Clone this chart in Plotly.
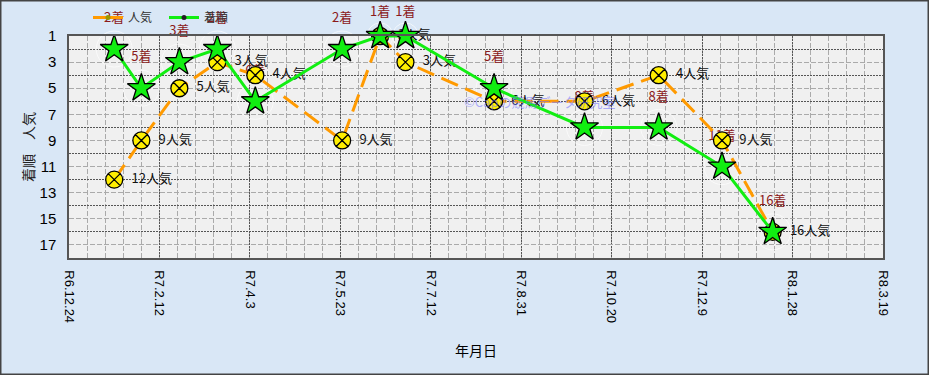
import plotly.graph_objects as go

# ---- data ----
race_dates = ["2025-01-18", "2025-02-02", "2025-02-23", "2025-03-16", "2025-04-06",
              "2025-05-24", "2025-06-14", "2025-06-28", "2025-08-16", "2025-10-05",
              "2025-11-15", "2025-12-20", "2026-01-17"]
finish = [2, 5, 3, 2, 6, 2, 1, 1, 5, 8, 8, 11, 16]      # 着順
popularity = [12, 9, 5, 3, 4, 9, 1, 3, 6, 6, 4, 9, 16]  # 人気

x_tick_vals = ["2024-12-24", "2025-02-12", "2025-04-03", "2025-05-23", "2025-07-12",
               "2025-08-31", "2025-10-20", "2025-12-09", "2026-01-28", "2026-03-19"]
x_tick_text = ["R6.12.24", "R7.2.12", "R7.4.3", "R7.5.23", "R7.7.12",
               "R7.8.31", "R7.10.20", "R7.12.9", "R8.1.28", "R8.3.19"]
y_tick_vals = [1, 3, 5, 7, 9, 11, 13, 15, 17]
y_minor_vals = [2, 4, 6, 8, 10, 12, 14, 16, 18]

finish_text = [f"{v}着" for v in finish]
pop_text = [f"{v}人気" for v in popularity]

W, H = 929, 375
ML, MR, MT, MB = 69, 46, 36, 117
PW, PH = W - ML - MR, H - MT - MB

JP = "Noto Sans CJK JP"
fig = go.Figure()

# label offset (invisible marker size); labels at the very top sit closer, as in the original
finish_label_pad = [36 if v > 1 else 26 for v in finish]

# labels (drawn underneath markers)
fig.add_trace(go.Scatter(
    x=race_dates, y=finish, mode="markers+text", text=finish_text,
    textposition="top center", cliponaxis=False,
    textfont=dict(family=JP, size=13, color="#8B1A1A"),
    marker=dict(size=finish_label_pad, color="rgba(0,0,0,0)"),
    showlegend=False, hoverinfo="skip"))
fig.add_trace(go.Scatter(
    x=race_dates, y=popularity, mode="markers+text", text=pop_text,
    textposition="middle right", cliponaxis=False,
    textfont=dict(family=JP, size=13, color="#111111"),
    marker=dict(size=26, color="rgba(0,0,0,0)"),
    showlegend=False, hoverinfo="skip"))

# popularity line
fig.add_trace(go.Scatter(
    x=race_dates, y=popularity, mode="lines+markers", name="人気",
    cliponaxis=False,
    line=dict(color="#FF9A00", width=3, dash="18px,8px"),
    marker=dict(symbol="circle-x", size=17, color="#FFEE00",
                line=dict(color="#000000", width=1.3)),
    showlegend=False))
# finish line
fig.add_trace(go.Scatter(
    x=race_dates, y=finish, mode="lines+markers", name="着順",
    cliponaxis=False,
    line=dict(color="#11EE11", width=3),
    marker=dict(symbol="star", size=21, color="#11EE11",
                line=dict(color="#000000", width=1.3)),
    showlegend=False))

# legend-only entries
fig.add_trace(go.Scatter(
    x=[None], y=[None], mode="lines+markers", name="人気",
    line=dict(color="#FF9A00", width=3),
    marker=dict(symbol="circle", size=5, color="#999900")))
fig.add_trace(go.Scatter(
    x=[None], y=[None], mode="lines+markers", name="着順",
    line=dict(color="#11EE11", width=3),
    marker=dict(symbol="circle", size=5, color="#222222")))

fig.update_layout(
    width=W, height=H,
    margin=dict(l=ML, r=MR, t=MT, b=MB, pad=0, autoexpand=False),
    paper_bgcolor="#D9E7F6",
    plot_bgcolor="#F0F0F0",
    font=dict(family="Liberation Sans, Arial", size=13, color="#000000"),
    legend=dict(orientation="h", xref="container", yref="container",
                x=88 / W, y=1 - 3 / H,
                xanchor="left", yanchor="top",
                bgcolor="rgba(0,0,0,0)", font=dict(family=JP, size=12, color="#333333"),
                itemwidth=30, entrywidth=31, tracegroupgap=0),
    xaxis=dict(
        type="date", range=["2024-12-24", "2026-03-19"], automargin=False,
        tickmode="array", tickvals=x_tick_vals, ticktext=x_tick_text,
        tickangle=90, tickfont=dict(size=13), ticklabelstandoff=8,
        showgrid=True, gridcolor="#555555", griddash="2px,1px", gridwidth=1,
        minor=dict(dtick=10 * 86400000, tick0="2024-12-24", showgrid=True,
                   gridcolor="#AAAAAA", griddash="5px,2px", gridwidth=1),
        showline=True, linecolor="#555555", linewidth=1.5, mirror=True,
        zeroline=False,
        title=dict(text="年月日", font=dict(family=JP, size=14), standoff=24)),
    yaxis=dict(
        range=[18, 1], tickmode="array", tickvals=y_tick_vals, automargin=False,
        tickfont=dict(size=15), ticklabelstandoff=8,
        showgrid=True, gridcolor="#AAAAAA", griddash="5px,2px", gridwidth=1,
        minor=dict(tickvals=y_minor_vals, showgrid=True,
                   gridcolor="#555555", griddash="2px,1px", gridwidth=1),
        showline=True, linecolor="#555555", linewidth=1.5, mirror=True,
        zeroline=False,
        title=dict(text="着順　人気", font=dict(family=JP, size=14, color="#222222"),
                   standoff=2)),
    annotations=[dict(
        text="©Capの競馬データ研究室", xref="paper", yref="paper",
        x=(540 - ML) / PW, y=1 - (90 - MT) / PH, showarrow=False,
        font=dict(family=JP, size=13, color="rgba(110,110,255,0.55)"))],
    shapes=[dict(type="rect", xref="paper", yref="paper",
                 x0=-ML / PW + 0.0006, x1=1 + MR / PW - 0.0006,
                 y0=-MB / PH + 0.002, y1=1 + MT / PH - 0.002,
                 line=dict(color="#444444", width=2), layer="above")],
)

fig.write_html("out.html")
